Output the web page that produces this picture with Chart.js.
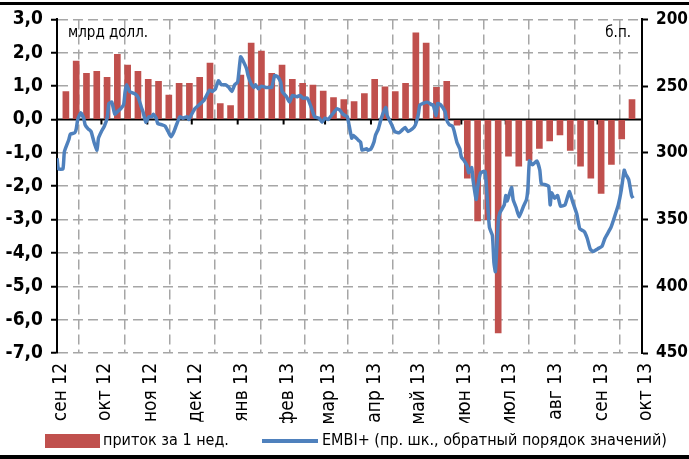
<!DOCTYPE html>
<html>
<head>
  <meta charset="utf-8">
  <title>Потоки в фонды и EMBI+</title>
  <script src="https://cdn.jsdelivr.net/npm/chart.js"></script>
  <style>
    body { margin: 0; background: #fff; }
    #wrap { position: relative; width: 689px; height: 459px; }
    #legend {
      position: absolute; left: 0; top: 431px; width: 689px;
      font-family: 'DejaVu Sans Condensed', sans-serif;
      font-size: 16px; color: #000; white-space: nowrap;
    }
    #legend .item { position: absolute; top: 0; line-height: 18px; }
    #legend .box { display: inline-block; vertical-align: middle; }
  </style>
</head>
<body>
<div id="wrap">
  <canvas id="flowChart" width="689" height="459"></canvas>
  <div id="legend">
    <span class="item" style="left:45px"><span class="box" style="width:55px;height:14px;background:#C0504D;margin-right:3px"></span>приток за 1 нед.</span>
    <span class="item" style="left:262px"><span class="box" style="width:56px;height:4px;background:#4F81BD;margin-right:4px"></span>EMBI+ (пр. шк., обратный порядок значений)</span>
  </div>
</div>

<script>
  // недельный приток, млрд долл.
  const flowValues = [0.84, 1.75, 1.38, 1.44, 1.26, 1.95, 1.63, 1.44, 1.2, 1.14,
    0.73, 1.08, 1.08, 1.26, 1.69, 0.48, 0.42, 1.33, 2.29, 2.05,
    1.38, 1.63, 1.2, 1.08, 1.03, 0.85, 0.66, 0.6, 0.54, 0.78,
    1.2, 0.98, 0.84, 1.08, 2.6, 2.29, 0.96, 1.14, -0.17, -1.76,
    -3.04, -3.0, -6.4, -1.1, -1.4, -1.23, -0.87, -0.64, -0.46, -0.93,
    -1.4, -1.76, -2.22, -1.35, -0.58, 0.6];
  // дни от 1 сен 2012 для первой недели и шаг
  const firstWeekDay = 6;
  const weekStep = 6.95;

  // EMBI+, б.п. (дни от 1 сен 2012)
  const embiDays = [0,1,4,5,8,9,12,13,14,16,18,19,21,23,25,27,28,30,32,34,
    35,37,39,41,43,45,46,47,49,51,53,55,57,58,60,62,64,65,67,68,
    71,73,75,77,79,81,83,85,88,89,91,93,97,99,101,103,105,107,109,111,
    114,116,118,120,122,124,126,128,129,131,133,134,136,138,141,143,145,147,149,151,
    152,155,157,159,162,164,166,169,170,172,174,177,179,181,183,186,189,191,193,196,
    197,199,200,203,205,206,209,210,212,214,215,217,219,222,223,226,228,231,233,235,
    237,240,242,244,245,247,250,253,254,256,257,259,262,263,265,267,268,270,272,273,
    275,277,278,280,281,283,284,286,289,290,292,294,295,296,297,298,299,302,303,304,
    306,307,308,310,312,315,317,318,319,321,324,326,327,330,332,333,334,336,338,340,
    343,345,346,348,351,353,356,358,360,362,365,368,370,374,377,379,381,383,384,386,
    388,389];
  const embiValues = [304,312,312,299,290,286,285,282,275,270,274,279,282,284,292,298,289,284,280,273,
    263,262,271,269,267,264,254,249,254,255,256,259,266,269,277,273,273,271,274,278,
    279,280,284,288,284,278,273,274,273,275,271,267,263,261,257,253,254,252,246,249,
    249,251,254,249,247,228,232,237,242,248,251,249,252,250,251,251,251,242,243,247,
    254,258,262,257,258,257,259,259,261,267,273,274,277,274,275,271,267,268,271,273,
    278,289,287,290,292,298,297,298,297,292,287,282,274,266,272,279,284,285,283,281,
    284,282,279,271,264,263,262,264,264,272,263,264,269,275,279,280,283,292,297,303,
    306,310,315,311,321,335,326,315,314,326,356,362,382,389,370,351,345,339,332,336,
    329,326,335,341,348,340,335,326,306,309,306,313,323,324,325,339,330,334,332,340,
    339,332,329,336,346,357,359,364,372,374,372,370,364,356,346,339,328,313,316,320,
    332,334];

  const monthDays = [0, 30, 61, 91, 122, 153, 181, 212, 242, 273, 303, 334, 365, 395];
  const monthLabels = ['сен 12', 'окт 12', 'ноя 12', 'дек 12', 'янв 13', 'фев 13', 'мар 13',
    'апр 13', 'май 13', 'июн 13', 'июл 13', 'авг 13', 'сен 13', 'окт 13'];

  const FONT = "'DejaVu Sans Condensed', sans-serif";
  const GRID = '#a6a6a6';

  // нулевая линия и подписи единиц
  const extras = {
    id: 'extras',
    beforeDatasetsDraw(chart) {
      const {ctx, chartArea, scales} = chart;
      const y0 = scales.y.getPixelForValue(0);
      ctx.save();
      ctx.strokeStyle = '#000';
      ctx.lineWidth = 2;
      ctx.beginPath();
      ctx.moveTo(chartArea.left, y0);
      ctx.lineTo(chartArea.right, y0);
      monthDays.forEach(d => {
        const x = scales.x.getPixelForValue(d);
        ctx.moveTo(x, y0);
        ctx.lineTo(x, y0 + 5);
      });
      ctx.stroke();
      ctx.restore();
    },
    afterDraw(chart) {
      const {ctx, chartArea} = chart;
      ctx.save();
      ctx.fillStyle = '#000';
      ctx.font = '15px ' + FONT;
      ctx.textBaseline = 'alphabetic';
      ctx.textAlign = 'left';
      ctx.fillText('млрд долл.', chartArea.left + 11, chartArea.top + 18);
      ctx.textAlign = 'right';
      ctx.fillText('б.п.', chartArea.right - 11, chartArea.top + 18);
      // рамка страницы
      ctx.fillRect(0, 2, chart.width, 3);
      ctx.fillRect(0, 455, chart.width, 4);
      ctx.restore();
    }
  };

  const ctx = document.getElementById('flowChart').getContext('2d');
  const chart = new Chart(ctx, {
    type: 'bar',
    data: {
      datasets: [{
        type: 'bar',
        label: 'приток за 1 нед.',
        data: flowValues.map((v, i) => ({x: firstWeekDay + i * weekStep, y: v})),
        backgroundColor: '#C0504D',
        barThickness: 6,
        yAxisID: 'y',
        order: 1
      }, {
        type: 'line',
        label: 'EMBI+ (пр. шк., обратный порядок значений)',
        data: embiDays.map((d, i) => ({x: d, y: embiValues[i]})),
        borderColor: '#4F81BD',
        borderWidth: 3.5,
        pointRadius: 0,
        tension: 0.15,
        yAxisID: 'y2',
        order: 0
      }]
    },
    options: {
      responsive: false,
      animation: false,
      devicePixelRatio: 1,
      layout: { padding: { top: 17, bottom: 36, left: 0, right: 0 } },
      plugins: { legend: { display: false }, tooltip: { enabled: false } },
      scales: {
        x: {
          type: 'linear', min: 0, max: 395, offset: false,
          afterBuildTicks: s => { s.ticks = monthDays.map(v => ({value: v})); },
          afterFit: s => { s.height = 70; },
          ticks: {
            autoSkip: false, minRotation: 90, maxRotation: 90, padding: 10,
            labelOffset: 4,
            color: '#000', font: { family: FONT, size: 19 },
            callback: (v, i) => monthLabels[i]
          },
          grid: { color: GRID, lineWidth: 1.5, drawTicks: false },
          border: { display: false, dash: [10, 5] }
        },
        y: {
          position: 'left', min: -7, max: 3,
          afterFit: s => { s.width = 57; },
          ticks: {
            stepSize: 1, padding: 8, color: '#000',
            font: { family: FONT, size: 19, weight: 'bold' },
            callback: v => v.toFixed(1).replace('.', ',')
          },
          grid: {
            color: c => (c.tick && c.tick.value === 0) ? 'rgba(0,0,0,0)' : GRID,
            lineWidth: 1.5, tickColor: '#000', tickLength: 6, tickWidth: 2
          },
          border: { color: '#000', width: 2, dash: [10, 5] }
        },
        y2: {
          position: 'right', min: 200, max: 450, reverse: true,
          afterFit: s => { s.width = 47; },
          ticks: {
            stepSize: 50, padding: 8, color: '#000',
            font: { family: FONT, size: 17, weight: 'bold' }
          },
          grid: { drawOnChartArea: false, color: '#000', tickLength: 6, tickWidth: 2 },
          border: { color: '#000', width: 2 }
        }
      }
    },
    plugins: [extras]
  });
</script>
</body>
</html>
